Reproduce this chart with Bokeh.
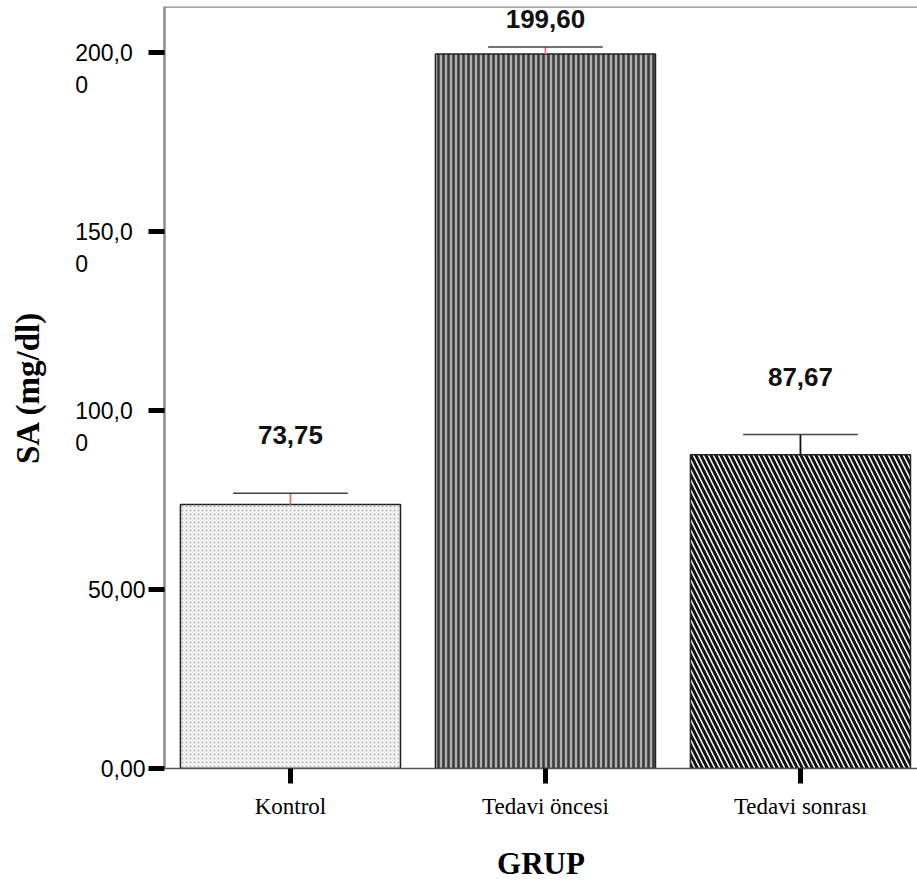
from bokeh.plotting import figure
from bokeh.models import FixedTicker, Range1d, Span, ColumnDataSource
from bokeh.core.properties import value
from bokeh.embed import file_html
from bokeh.resources import INLINE

# ---- data ----
groups = ["Kontrol", "Tedavi öncesi", "Tedavi sonrası"]
means = [73.75, 199.60, 87.67]
upper = [76.9, 201.6, 93.3]
mean_labels = ["73,75", "199,60", "87,67"]
y_ticks = [0, 50, 100, 150, 200]
y_tick_labels = ["0,00", "50,00", "100,0\n0", "150,0\n0", "200,0\n0"]

# ---- styles ----
fills = ["#f2f2f2", "#b0b0b0", "#ffffff"]
hatches = ["dot", "vertical_line", "left_diagonal_line"]
hatch_colors = ["#bcbcbc", "#383838", "#111111"]
hatch_scales = [4, 5, 10]
hatch_weights = [1.2, 2.5, 3.0]
stem_colors = ["#ee6f6f", "#ee6f6f", "#111111"]

xs = list(range(1, len(groups) + 1))
Y_TOP = 212.9
lab_y = [min(u + 16.2, Y_TOP - 3.4) for u in upper]

src = ColumnDataSource(dict(x=xs, top=means, upper=upper, fill=fills,
                            hatch=hatches, hcol=hatch_colors, hscale=hatch_scales,
                            hweight=hatch_weights, stem=stem_colors,
                            lab=mean_labels, laby=lab_y,
                            cl=[x - 0.225 for x in xs], cr=[x + 0.225 for x in xs]))

p = figure(width=917, height=884, output_backend="svg", toolbar_location=None,
           x_range=Range1d(0.506, 3.459), y_range=Range1d(0, Y_TOP),
           min_border_left=164, min_border_right=0, min_border_top=6,
           min_border_bottom=116)
p.outline_line_color = None
p.xgrid.visible = False
p.ygrid.visible = False
p.background_fill_color = "white"

p.vbar(x="x", top="top", bottom=0, width=0.863, source=src,
       fill_color="fill", line_color="#222222", line_width=1.5,
       hatch_pattern="hatch", hatch_color="hcol", hatch_scale="hscale",
       hatch_weight="hweight")

# error bars
p.segment(x0="x", y0="top", x1="x", y1="upper", source=src,
          line_color="stem", line_width=1.8)
p.segment(x0="cl", y0="upper", x1="cr", y1="upper", source=src,
          line_color="#444444", line_width=1.6)

# value labels
p.text(x="x", y="laby", text="lab", source=src, text_align="center",
       text_baseline="middle", text_font=value("Liberation Sans"),
       text_font_style="bold", text_font_size="26px", text_color="#111111")

# top border line
p.add_layout(Span(location=Y_TOP, dimension="width", line_color="#8a8a8a",
                  line_width=2.5))

# ---- x axis ----
xa = p.xaxis[0]
xa.ticker = FixedTicker(ticks=xs)
xa.major_label_overrides = {x: g for x, g in zip(xs, groups)}
xa.minor_tick_line_color = None
xa.major_tick_in = 0
xa.major_tick_out = 15
xa.major_tick_line_width = 5
xa.major_tick_line_color = "black"
xa.axis_line_color = "#555555"
xa.axis_line_width = 1.5
xa.major_label_text_font = "Liberation Serif"
xa.major_label_text_font_size = "23px"
xa.major_label_text_color = "black"
xa.major_label_standoff = 10
xa.axis_label = "GRUP"
xa.axis_label_text_font = "Liberation Serif"
xa.axis_label_text_font_style = "bold"
xa.axis_label_text_font_size = "31px"
xa.axis_label_text_color = "black"
xa.axis_label_standoff = 24

# ---- y axis ----
nb = "\u00a0"
def fmt(lbl):
    if "\n" in lbl:
        a, b = lbl.split("\n")
        return nb + "\n" + a + nb * 2 + "\n" + b + nb * 9
    return lbl

ya = p.yaxis[0]
ya.ticker = FixedTicker(ticks=y_ticks)
ya.major_label_overrides = {t: fmt(l) for t, l in zip(y_ticks, y_tick_labels)}
ya.minor_tick_line_color = None
ya.major_tick_in = 0
ya.major_tick_out = 16
ya.major_tick_line_width = 5
ya.major_tick_line_color = "black"
ya.axis_line_color = "#8a8a8a"
ya.axis_line_width = 2.5
ya.major_label_text_font = "Liberation Sans"
ya.major_label_text_font_size = "23px"
ya.major_label_text_color = "black"
ya.major_label_text_line_height = 1.25
ya.major_label_standoff = 3
ya.axis_label = "SA (mg/dl)"
ya.axis_label_text_font = "Liberation Serif"
ya.axis_label_text_font_style = "bold"
ya.axis_label_text_font_size = "33px"
ya.axis_label_text_color = "black"
ya.axis_label_standoff = 26

open("out.html", "w").write(file_html(p, INLINE))
